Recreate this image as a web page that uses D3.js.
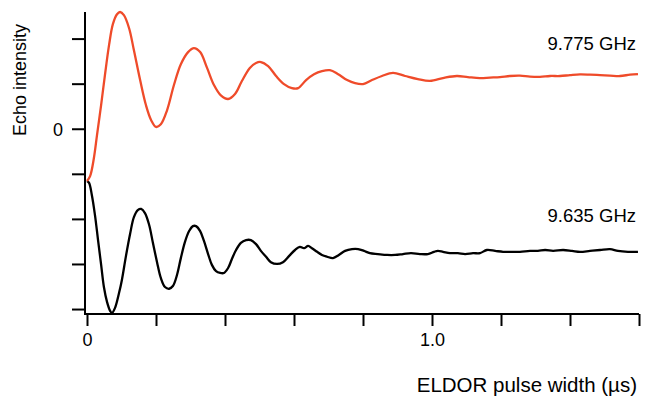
<!DOCTYPE html>
<html>
<head>
<meta charset="utf-8">
<script src="https://cdn.jsdelivr.net/npm/d3@7"></script>
<style>
  body { margin: 0; background: #fff; }
  text { font-family: "Liberation Sans", Arial, Helvetica, sans-serif; fill: #000; }
</style>
</head>
<body>
<div id="chart"></div>
<script>
// pulse width (µs) and echo intensity (arb. units, one tick = 1)
var redT = [0, 0.009, 0.020, 0.029, 0.041, 0.052, 0.064, 0.075, 0.087, 0.096, 0.107, 0.122, 0.136, 0.154, 0.171, 0.186, 0.200, 0.214, 0.232, 0.252, 0.272, 0.293, 0.310, 0.328, 0.348, 0.368, 0.388, 0.409, 0.429, 0.449, 0.472, 0.490, 0.504, 0.525, 0.548, 0.571, 0.594, 0.612, 0.635, 0.658, 0.681, 0.704, 0.728, 0.754, 0.777, 0.800, 0.826, 0.855, 0.887, 0.922, 0.959, 0.994, 1.035, 1.072, 1.104, 1.139, 1.168, 1.197, 1.226, 1.255, 1.284, 1.313, 1.342, 1.371, 1.400, 1.429, 1.458, 1.487, 1.516, 1.545, 1.574, 1.597];
var redV = [-1.16, -1.05, -0.65, -0.14, 0.53, 1.19, 1.86, 2.32, 2.54, 2.59, 2.52, 2.23, 1.74, 1.08, 0.52, 0.19, 0.04, 0.10, 0.41, 0.97, 1.43, 1.70, 1.79, 1.70, 1.35, 0.97, 0.74, 0.66, 0.77, 1.06, 1.35, 1.46, 1.48, 1.39, 1.17, 0.99, 0.90, 0.90, 1.08, 1.21, 1.28, 1.30, 1.21, 1.08, 1.01, 0.99, 1.08, 1.17, 1.24, 1.17, 1.10, 1.06, 1.13, 1.17, 1.146, 1.124, 1.135, 1.146, 1.17, 1.177, 1.157, 1.152, 1.17, 1.17, 1.19, 1.206, 1.20, 1.19, 1.18, 1.17, 1.20, 1.213];

var blackT = [0, 0.006, 0.014, 0.023, 0.032, 0.041, 0.049, 0.058, 0.067, 0.072, 0.081, 0.093, 0.101, 0.113, 0.125, 0.136, 0.148, 0.157, 0.168, 0.180, 0.191, 0.203, 0.214, 0.226, 0.238, 0.249, 0.261, 0.272, 0.284, 0.296, 0.307, 0.316, 0.328, 0.339, 0.351, 0.362, 0.374, 0.386, 0.397, 0.409, 0.420, 0.432, 0.446, 0.461, 0.475, 0.490, 0.504, 0.519, 0.533, 0.551, 0.568, 0.586, 0.603, 0.617, 0.629, 0.641, 0.652, 0.667, 0.681, 0.696, 0.713, 0.730, 0.748, 0.768, 0.786, 0.803, 0.820, 0.843, 0.870, 0.893, 0.916, 0.939, 0.965, 0.988, 1.006, 1.017, 1.032, 1.052, 1.075, 1.096, 1.119, 1.139, 1.159, 1.183, 1.206, 1.232, 1.255, 1.284, 1.307, 1.328, 1.351, 1.380, 1.406, 1.429, 1.458, 1.487, 1.516, 1.539, 1.568, 1.597];
var blackV = [-1.16, -1.20, -1.47, -1.91, -2.47, -3.02, -3.51, -3.84, -4.04, -4.09, -3.98, -3.64, -3.36, -2.82, -2.33, -1.96, -1.80, -1.78, -1.87, -2.13, -2.53, -2.96, -3.31, -3.51, -3.55, -3.49, -3.24, -2.87, -2.51, -2.27, -2.16, -2.16, -2.27, -2.49, -2.78, -3.02, -3.16, -3.20, -3.20, -3.09, -2.89, -2.69, -2.53, -2.47, -2.47, -2.56, -2.71, -2.84, -2.96, -3.00, -2.96, -2.82, -2.69, -2.62, -2.65, -2.60, -2.65, -2.73, -2.80, -2.84, -2.87, -2.80, -2.71, -2.67, -2.67, -2.71, -2.76, -2.78, -2.80, -2.80, -2.78, -2.76, -2.78, -2.78, -2.73, -2.71, -2.73, -2.76, -2.76, -2.78, -2.76, -2.76, -2.69, -2.71, -2.73, -2.73, -2.73, -2.71, -2.71, -2.69, -2.71, -2.69, -2.71, -2.73, -2.71, -2.69, -2.67, -2.71, -2.73, -2.73];

var xTicks = [0, 0.2, 0.4, 0.6, 0.8, 1.0, 1.2, 1.4, 1.6];
var xTickLabels = {"0": "0", "1": "1.0"};
var yTicks = [-4, -3, -2, -1, 0, 1, 2];
var seriesNames = ["9.775 GHz", "9.635 GHz"];

var W = 645, H = 396;

var svg = d3.select("#chart").append("svg")
    .attr("width", W)
    .attr("height", H);

var x = d3.scaleLinear().domain([0, 1.6]).range([87, 639]);
var y = d3.scaleLinear().domain([-4.11, 2.59]).range([314, 12]);

// x axis
var xAxis = svg.append("g")
    .attr("transform", "translate(0,314)")
    .call(d3.axisBottom(x).tickValues(xTicks).tickSize(12).tickSizeOuter(0)
        .tickFormat(function(d) { return xTickLabels[String(d)] || ""; }));
xAxis.select(".domain").attr("d", "M85,0H639");

// y axis
var yAxis = svg.append("g")
    .attr("transform", "translate(85,0)")
    .call(d3.axisLeft(y).tickValues(yTicks).tickSize(13).tickSizeOuter(0)
        .tickFormat(function(d) { return d === 0 ? "0" : ""; }));
yAxis.select(".domain").attr("d", "M0,12V315");

svg.selectAll(".domain, .tick line")
    .attr("stroke", "#000")
    .attr("stroke-width", 2);
svg.selectAll(".tick text")
    .attr("font-size", 18)
    .attr("font-family", "Liberation Sans, Arial, sans-serif");
xAxis.selectAll(".tick text").attr("dy", "0.6em").attr("y", 21);
yAxis.selectAll(".tick text").attr("x", -22).attr("dy", "0.4em");

var line = d3.line()
    .x(function(d) { return x(d[0]); })
    .y(function(d) { return y(d[1]); })
    .curve(d3.curveCatmullRom);

var redData = d3.zip(redT, redV);
var blackData = d3.zip(blackT, blackV);

svg.append("path")
    .datum(blackData)
    .attr("fill", "none")
    .attr("stroke", "#000")
    .attr("stroke-width", 2.3)
    .attr("d", line);

svg.append("path")
    .datum(redData)
    .attr("fill", "none")
    .attr("stroke", "#ef4b2a")
    .attr("stroke-width", 2.3)
    .attr("d", line);

// labels
svg.append("text")
    .attr("x", 636).attr("y", 50)
    .attr("text-anchor", "end")
    .attr("font-size", 18.5)
    .text(seriesNames[0]);

svg.append("text")
    .attr("x", 636).attr("y", 222)
    .attr("text-anchor", "end")
    .attr("font-size", 18.5)
    .text(seriesNames[1]);

svg.append("text")
    .attr("x", 637).attr("y", 392)
    .attr("text-anchor", "end")
    .attr("font-size", 20.5)
    .text("ELDOR pulse width (µs)");

svg.append("text")
    .attr("transform", "translate(26,80) rotate(-90)")
    .attr("text-anchor", "middle")
    .attr("font-size", 18)
    .text("Echo intensity");
</script>
</body>
</html>
